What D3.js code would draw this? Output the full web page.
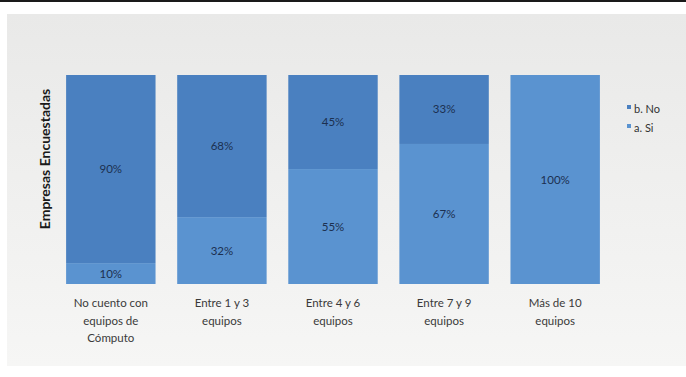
<!DOCTYPE html>
<html>
<head>
<meta charset="utf-8">
<script src="https://cdn.jsdelivr.net/npm/d3@7/dist/d3.min.js"></script>
<style>
  html, body { margin: 0; padding: 0; background: #fff; }
  svg { display: block; }
</style>
</head>
<body>
<svg id="chart" width="686" height="377"></svg>
<script>
// Survey: companies by number of computers owned, share answering Sí / No
const categories = [
  ["No cuento con", "equipos de", "Cómputo"],
  ["Entre 1 y 3", "equipos"],
  ["Entre 4 y 6", "equipos"],
  ["Entre 7 y 9", "equipos"],
  ["Más de 10", "equipos"]
];
const siValues = [10, 32, 55, 67, 100];
const noValues = [90, 68, 45, 33, 0];
const seriesNames = ["b. No", "a. Si"];
const yTicks = [0, 100];

const W = 686, H = 377;
const svg = d3.select("#chart");

// panel background with soft vertical gradient
const defs = svg.append("defs");
const grad = defs.append("linearGradient").attr("id", "bg").attr("x1", 0).attr("y1", 0).attr("x2", 0).attr("y2", 1);
grad.append("stop").attr("offset", "0%").attr("stop-color", "#e9e9e8");
grad.append("stop").attr("offset", "100%").attr("stop-color", "#f6f6f5");

svg.append("rect").attr("width", W).attr("height", H).attr("fill", "#ffffff");
svg.append("rect").attr("x", 7).attr("y", 14).attr("width", W - 7).attr("height", 352).attr("fill", "url(#bg)");
svg.append("line").attr("x1", 0).attr("x2", W).attr("y1", 1).attr("y2", 1)
  .attr("stroke", "#1a1a1a").attr("stroke-width", 2);

const plot = { left: 55, right: 611, top: 75, bottom: 284 };

const x = d3.scaleBand()
  .domain(d3.range(categories.length))
  .range([plot.left, plot.right])
  .paddingInner(0.195)
  .paddingOuter(0.1);

const y = d3.scaleLinear().domain(d3.extent(yTicks)).range([plot.bottom, plot.top]);

const colors = { si: "#5a93d0", no: "#4a80c0" };
const labelColor = "#1c3050";
const font = "Lato, 'Open Sans', sans-serif";

const rows = categories.map((c, i) => ({ i, si: siValues[i], no: noValues[i] }));
const stack = d3.stack().keys(["si", "no"])(rows);

const g = svg.append("g");
stack.forEach(layer => {
  g.selectAll(null).data(layer).enter().append("rect")
    .attr("x", d => x(d.data.i))
    .attr("width", x.bandwidth())
    .attr("y", d => y(d[1]))
    .attr("height", d => y(d[0]) - y(d[1]))
    .attr("fill", colors[layer.key]);
  g.selectAll(null).data(layer.filter(d => d[1] - d[0] > 0)).enter().append("text")
    .attr("x", d => x(d.data.i) + x.bandwidth() / 2)
    .attr("y", d => (y(d[0]) + y(d[1])) / 2 + 4)
    .attr("text-anchor", "middle")
    .attr("font-family", font)
    .attr("font-size", 11.5)
    .attr("fill", labelColor)
    .text(d => (d[1] - d[0]) + "%");
});

// category labels under the bars
const xLabels = svg.append("g");
categories.forEach((lines, i) => {
  const cx = x(i) + x.bandwidth() / 2;
  const t = xLabels.append("text")
    .attr("x", cx)
    .attr("y", 307)
    .attr("text-anchor", "middle")
    .attr("font-family", font)
    .attr("font-size", 11.5)
    .attr("fill", "#3a3a3a");
  lines.forEach((l, k) => t.append("tspan").attr("x", cx).attr("dy", k === 0 ? 0 : 17.5).text(l));
});

// vertical axis title
svg.append("text")
  .attr("transform", "translate(50, 159) rotate(-90)")
  .attr("text-anchor", "middle")
  .attr("font-family", font)
  .attr("font-weight", "bold")
  .attr("font-size", 14)
  .attr("fill", "#1a1a1a")
  .text("Empresas Encuestadas");

// legend
const legend = svg.append("g").attr("transform", "translate(627, 113)");
seriesNames.forEach((name, k) => {
  const row = legend.append("g").attr("transform", `translate(0, ${k * 19})`);
  row.append("rect").attr("x", 0).attr("y", -8).attr("width", 4).attr("height", 4)
    .attr("fill", k === 0 ? colors.no : colors.si);
  row.append("text").attr("x", 7).attr("y", 0)
    .attr("font-family", font).attr("font-size", 11).attr("fill", "#333")
    .text(name);
});
</script>
</body>
</html>
